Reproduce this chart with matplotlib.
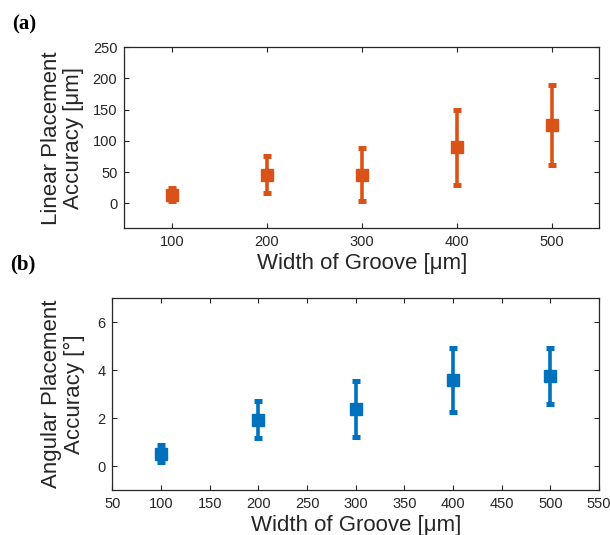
import matplotlib
matplotlib.use("Agg")
import matplotlib.pyplot as plt

plt.rcParams['font.family'] = ['Liberation Sans', 'DejaVu Sans']

# groove widths [um]
widths = [100, 200, 300, 400, 500]

# (a) linear placement accuracy [um]
lin_mean = [14, 46, 46, 90, 125]
lin_err = [10, 30, 42, 60, 64]

# (b) angular placement accuracy [deg]
ang_mean = [0.52, 1.94, 2.39, 3.59, 3.75]
ang_err = [0.37, 0.76, 1.16, 1.34, 1.16]

orange = "#D95319"
blue = "#0072BD"
txt = "#262626"

fig = plt.figure(figsize=(6.1, 5.35), dpi=100)
ax1 = fig.add_axes([0.2038, 0.5733, 0.7787, 0.3383])
ax2 = fig.add_axes([0.1841, 0.0841, 0.7980, 0.3583])


def style(ax):
    ax.tick_params(direction="in", top=True, right=True, length=3.6,
                   labelsize=10.5, colors=txt, width=0.8, pad=5)
    for s in ax.spines.values():
        s.set_color(txt)
        s.set_linewidth(0.9)


ax1.errorbar(widths, lin_mean, yerr=lin_err, fmt="s", color=orange,
             ms=8, elinewidth=2.6, capsize=2.6, capthick=3.6)
ax1.set_xlim(50, 550)
ax1.set_ylim(-40, 250)
ax1.set_xticks([100, 200, 300, 400, 500])
ax1.set_yticks([0, 50, 100, 150, 200, 250])
ax1.set_xlabel("Width of Groove [μm]", fontsize=16, color=txt, labelpad=3)
ax1.set_ylabel("Linear Placement\nAccuracy [μm]", fontsize=16, color=txt,
               linespacing=1.1, labelpad=6)
style(ax1)

ax2.errorbar(widths, ang_mean, yerr=ang_err, fmt="s", color=blue,
             ms=8, elinewidth=2.6, capsize=2.6, capthick=3.6)
ax2.set_xlim(50, 550)
ax2.set_ylim(-1, 7)
ax2.set_xticks(range(50, 551, 50))
ax2.set_yticks([0, 2, 4, 6])
ax2.set_xlabel("Width of Groove [μm]", fontsize=16, color=txt, labelpad=3)
ax2.set_ylabel("Angular Placement\nAccuracy [°]", fontsize=16, color=txt,
               linespacing=1.1, labelpad=9)
style(ax2)

fig.text(0.02, 0.944, "(a)", fontsize=15, fontweight="bold",
         family="Liberation Serif", va="baseline")
fig.text(0.016, 0.497, "(b)", fontsize=15, fontweight="bold",
         family="Liberation Serif", va="baseline")

fig.savefig("out.png", dpi=100)
